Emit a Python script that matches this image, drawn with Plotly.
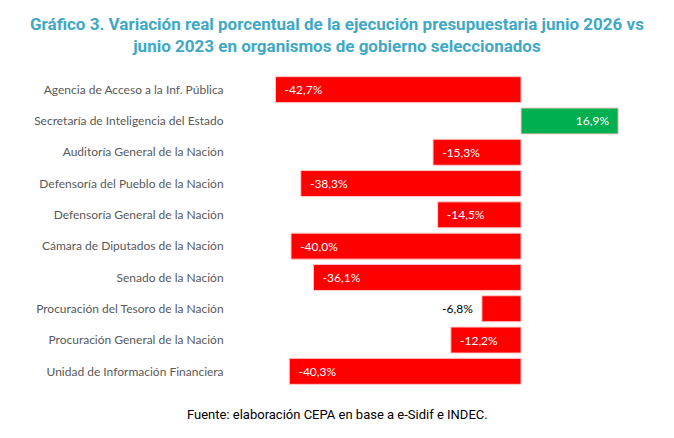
import plotly.graph_objects as go

categories = [
    "Agencia de Acceso a la Inf. Pública",
    "Secretaría de Inteligencia del Estado",
    "Auditoría General de la Nación",
    "Defensoría del Pueblo de la Nación",
    "Defensoría General de la Nación",
    "Cámara de Diputados de la Nación",
    "Senado de la Nación",
    "Procuración del Tesoro de la Nación",
    "Procuración General de la Nación",
    "Unidad de Información Financiera",
]
values = [-42.7, 16.9, -15.3, -38.3, -14.5, -40.0, -36.1, -6.8, -12.2, -40.3]

PAD = "\u00a0\u00a0"
def fmt(v):
    s = f"{v:.1f}%".replace(".", ",")
    if abs(v) < 10:
        return s + PAD          # outside, left of the bar
    return (s + PAD) if v > 0 else (PAD + s)

labels = [fmt(v) for v in values]
colors = ["#00b050" if v > 0 else "#ff0000" for v in values]
textpos = ["outside" if abs(v) < 10 else "inside" for v in values]
textcol = ["#000000" if abs(v) < 10 else "#ffffff" for v in values]

W, H = 674, 438
L, R, T, B = 268, 38, 74, 51
page_center = (W / 2 - L) / (W - L - R)

fig = go.Figure(go.Bar(
    y=categories, x=values, orientation="h",
    marker=dict(color=colors, line=dict(color="#ffc8c8", width=1)),
    text=labels, textposition=textpos, insidetextanchor="end",
    textfont=dict(color=textcol, family="Lato", size=12),
    cliponaxis=False,
))

fig.update_layout(
    width=W, height=H,
    margin=dict(l=L, r=R, t=T, b=B),
    paper_bgcolor="white", plot_bgcolor="white",
    bargap=0.17,
    showlegend=False,
    xaxis=dict(range=[-44, 20], visible=False, fixedrange=True),
    yaxis=dict(autorange="reversed", showline=False, showgrid=False,
               ticks="outside", ticklen=41, tickcolor="rgba(0,0,0,0)",
               tickfont=dict(family="Lato", size=12, color="#595959")),
    annotations=[
        dict(text="<b>Gráfico 3. Variación real porcentual de la ejecución presupuestaria junio 2026 vs<br>junio 2023 en organismos de gobierno seleccionados</b>",
             x=page_center, xref="paper", xanchor="center", y=1, yref="paper",
             yanchor="bottom", yshift=16, showarrow=False,
             font=dict(family="Roboto", size=17, color="#3fa9c5")),
        dict(text="Fuente: elaboración CEPA en base a e-Sidif e INDEC.",
             x=page_center, xref="paper", xanchor="center", y=0, yref="paper",
             yanchor="top", yshift=-18, showarrow=False,
             font=dict(family="Roboto", size=13, color="#000000")),
    ],
)
fig.write_html("out.html")
